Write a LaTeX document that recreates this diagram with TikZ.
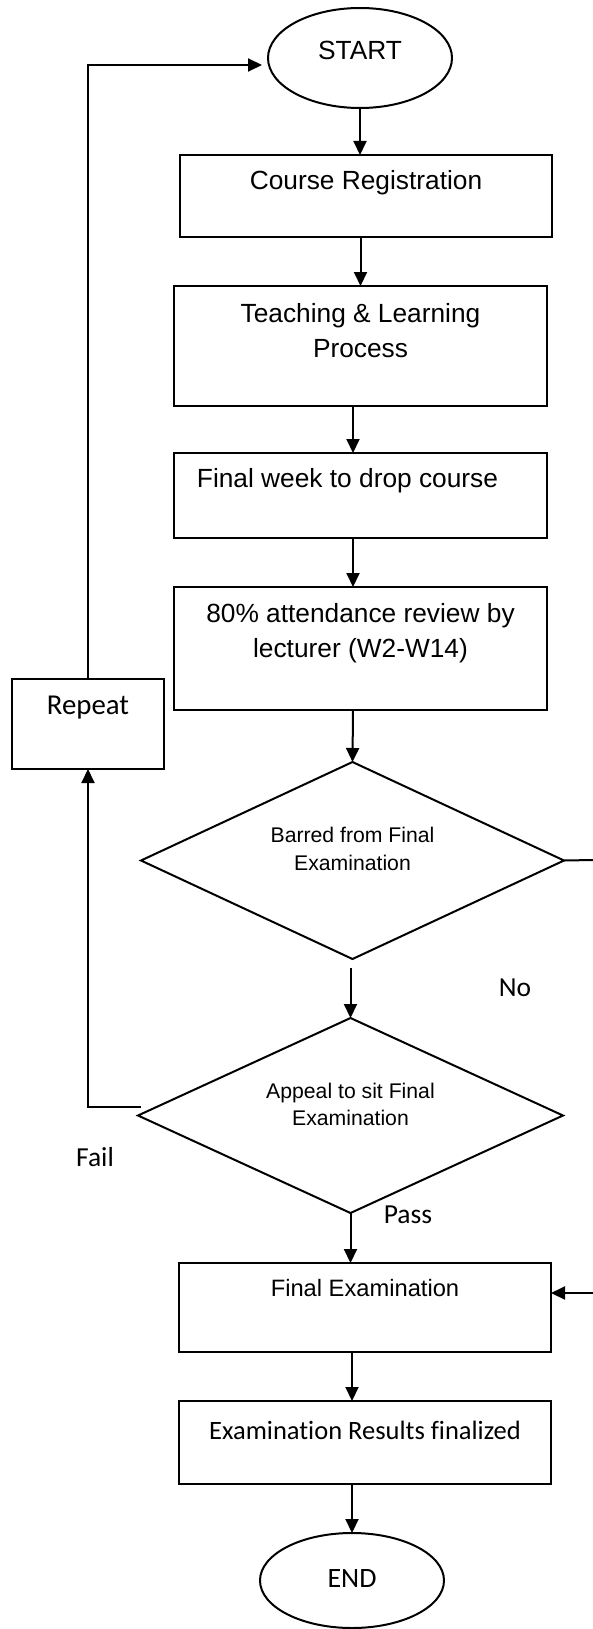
\documentclass[tikz,border=0pt]{standalone}
\usepackage{fontspec}
\setmainfont{Liberation Sans}
\newfontfamily\calibrifont[Ligatures=NoCommon]{Carlito}
\usetikzlibrary{shapes.geometric,arrows.meta,calc}

\begin{document}
\begin{tikzpicture}[x=1pt,y=-1pt,
  every node/.style={inner sep=0pt, outer sep=0pt},
  lw/.style={line width=2pt},
  arr/.style={lw, -{Triangle[length=14pt,width=13pt]}},
  procbox/.style={draw, lw, rectangle},
  terminal/.style={draw, lw, ellipse, minimum width=184pt},
  decision/.style={draw, lw, diamond},
  boxtext/.style={font=\fontsize{26.3pt}{35pt}\selectfont, align=center},
  dectext/.style={font=\fontsize{21.2pt}{27.5pt}\selectfont, align=center},
  cbtext/.style={font=\calibrifont\fontsize{27.5pt}{33pt}\selectfont, align=center}
]
\useasboundingbox (0,0) rectangle (593,1629);
\fill[white] (0,0) rectangle (593,1629);

% main column
\node[terminal, minimum height=100pt,
  label={[boxtext, name=startT, yshift=8pt]center:START}] (start) at (360,58) {};
\node[procbox, minimum width=372pt, minimum height=82pt,
  label={[boxtext, name=courseT, yshift=13pt]center:Course Registration}] (course) at (366,196) {};
\node[procbox, minimum width=373pt, minimum height=120pt,
  label={[boxtext, name=teachT, yshift=15.5pt]center:Teaching \& Learning\\Process}] (teach) at (360.5,346) {};
\node[procbox, minimum width=373pt, minimum height=85pt,
  label={[boxtext, name=dropT, xshift=-13pt, yshift=14.5pt]center:Final week to drop course}] (drop) at (360.5,495.5) {};
\node[procbox, minimum width=373pt, minimum height=123pt,
  label={[boxtext, name=attT, yshift=15.5pt]center:80\% attendance review by\\lecturer (W2-W14)}] (att) at (360.5,648.5) {};
\node[decision, minimum width=423pt, minimum height=197pt,
  label={[dectext, name=barredT, yshift=11.5pt]center:Barred from Final\\Examination}] (barred) at (352.5,860.5) {};
\node[decision, minimum width=425pt, minimum height=195pt,
  label={[dectext, name=appealT, yshift=11pt]center:Appeal to sit Final\\Examination}] (appeal) at (350.5,1115.5) {};
\node[procbox, minimum width=372pt, minimum height=89pt,
  label={[font=\fontsize{23.7pt}{28pt}\selectfont, name=finalT, yshift=19.5pt]center:Final Examination}] (final) at (365,1307.5) {};
\node[procbox, minimum width=372pt, minimum height=83pt,
  label={[cbtext, font=\calibrifont\fontsize{26.5pt}{32pt}\selectfont, name=resultsT, yshift=12.5pt]center:Examination Results finalized}] (results) at (365,1442.5) {};
\node[terminal, minimum height=95pt,
  label={[cbtext, font=\calibrifont\fontsize{28pt}{33pt}\selectfont, name=endT, yshift=2.5pt]center:END}] (end) at (352,1580.5) {};

% side box
\node[procbox, minimum width=151.5pt, minimum height=90pt,
  label={[cbtext, font=\calibrifont\fontsize{28.8pt}{34pt}\selectfont, name=repeatT, yshift=16pt]center:Repeat}] (repeat) at (88,724) {};

% branch labels
\node[cbtext] (no) at (515,988) {No};
\node[cbtext] (fail) at (95,1157) {Fail};
\node[cbtext] (pass) at (408,1215) {Pass};

% free ends at the right margin
\coordinate (rout) at (593,860);
\coordinate (rin) at (593,1293);

% connectors
\draw[arr] (start.south) -- (start.south |- course.north);
\draw[arr] (course.south -| teach.north) -- (teach.north);
\draw[arr] ([xshift=-7.5pt]teach.south) -- ([xshift=-7.5pt]drop.north);
\draw[arr] ([xshift=-7.5pt]drop.south) -- ([xshift=-7.5pt]att.north);
\draw[arr] ([xshift=-7.5pt]att.south) -- (barred.north);
\draw[arr] ([yshift=-9pt]barred.south -| appeal.north) -- (appeal.north);
\draw[arr] (appeal.south) -- (appeal.south |- final.north);
\draw[arr] ([xshift=-13pt]final.south) -- ([xshift=-13pt]results.north);
\draw[arr] ([xshift=-13pt]results.south) -- (end.north);
\draw[lw] (barred.east) -- (rout);
\draw[arr] (rin) -- (rin -| final.east);
\draw[arr] ($(appeal.west)+(3,-9)$) -| (repeat.south);
\draw[arr] (repeat.north) |- ($(start.west)+(-6,7)$);
\end{tikzpicture}
\end{document}
